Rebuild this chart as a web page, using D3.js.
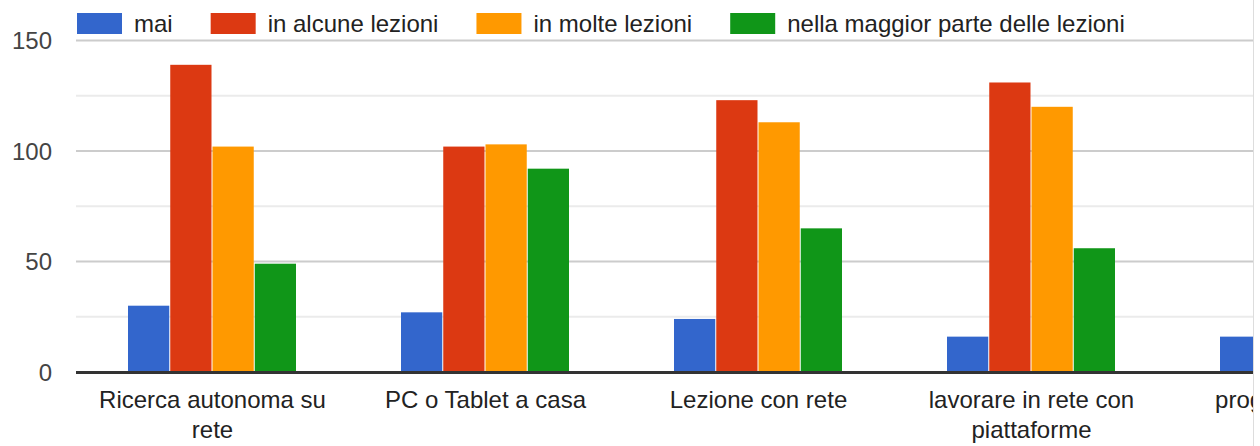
<!DOCTYPE html>
<html>
<head>
<meta charset="utf-8">
<script src="https://cdn.jsdelivr.net/npm/d3@7"></script>
<style>
  html, body { margin: 0; padding: 0; background: #fff; }
  svg { display: block; font-family: "Liberation Sans", Arial, sans-serif; }
</style>
</head>
<body>
<svg id="chart" width="1260" height="446"></svg>
<script>
// Answers per activity, one array per frequency level
const categories = [
  ["Ricerca autonoma su", "rete"],
  ["PC o Tablet a casa"],
  ["Lezione con rete"],
  ["lavorare in rete con", "piattaforme"],
  ["progetti condivisi"]
];
const seriesNames = ["mai", "in alcune lezioni", "in molte lezioni", "nella maggior parte delle lezioni"];
const seriesColors = ["#3366cc", "#dc3912", "#ff9900", "#109618"];
const mai = [30, 27, 24, 16, 16];
const alcune = [139, 102, 123, 131, null];
const molte = [102, 103, 113, 120, null];
const maggior = [49, 92, 65, 56, null];
const yTicks = [0, 50, 100, 150];
const yMinorTicks = [25, 75, 125];

const series = [mai, alcune, molte, maggior];

const svg = d3.select("#chart");
const left = 76, clipRight = 1253;
const groupStep = 273;
const fontSize = 24;

const x0 = d3.scaleBand()
  .domain(d3.range(categories.length))
  .range([left, left + groupStep * categories.length])
  .paddingInner(104 / 273)
  .paddingOuter(52 / 273);
const x1 = d3.scaleBand()
  .domain(d3.range(series.length))
  .range([0, x0.bandwidth()]);
const y = d3.scaleLinear().domain([0, 150]).range([372, 40.5]);

svg.append("defs").append("clipPath").attr("id", "plotclip")
  .append("rect").attr("x", 0).attr("y", 0).attr("width", clipRight).attr("height", 446);

const plot = svg.append("g").attr("clip-path", "url(#plotclip)");

// gridlines
plot.append("g").selectAll("line").data(yMinorTicks).join("line")
  .attr("x1", left).attr("x2", clipRight)
  .attr("y1", d => y(d)).attr("y2", d => y(d))
  .attr("stroke", "#ebebeb").attr("stroke-width", 2);
plot.append("g").selectAll("line").data(yTicks.filter(d => d > 0)).join("line")
  .attr("x1", left).attr("x2", clipRight)
  .attr("y1", d => y(d)).attr("y2", d => y(d))
  .attr("stroke", "#cccccc").attr("stroke-width", 2);

// bars
const bars = [];
series.forEach((s, si) => s.forEach((v, ci) => {
  if (v !== null) bars.push({ si, ci, v });
}));
plot.append("g").selectAll("rect").data(bars).join("rect")
  .attr("x", d => x0(d.ci) + x1(d.si))
  .attr("width", x1.bandwidth() - 1)
  .attr("y", d => y(d.v))
  .attr("height", d => y(0) - y(d.v))
  .attr("fill", d => seriesColors[d.si]);

// baseline
plot.append("line")
  .attr("x1", left).attr("x2", clipRight)
  .attr("y1", y(0) + 0.5).attr("y2", y(0) + 0.5)
  .attr("stroke", "#333").attr("stroke-width", 3);

// category labels
const catG = plot.append("g");
categories.forEach((lines, i) => {
  const t = catG.append("text")
    .attr("x", x0(i) + x0.bandwidth() / 2)
    .attr("y", 408)
    .attr("text-anchor", "middle")
    .attr("font-size", fontSize)
    .attr("fill", "#222");
  lines.forEach((ln, k) => {
    t.append("tspan").attr("x", x0(i) + x0.bandwidth() / 2)
      .attr("dy", k === 0 ? 0 : 30).text(ln);
  });
});

// y tick labels
svg.append("g").selectAll("text").data(yTicks).join("text")
  .attr("x", 52).attr("y", d => y(d) + 8.5)
  .attr("text-anchor", "end")
  .attr("font-size", fontSize)
  .attr("fill", "#444")
  .text(d => d);

// right border
svg.append("line")
  .attr("x1", clipRight + 0.5).attr("x2", clipRight + 0.5)
  .attr("y1", 0).attr("y2", 446)
  .attr("stroke", "#dddddd").attr("stroke-width", 1);

// legend
const legend = svg.append("g");
let lx = 77;
seriesNames.forEach((name, i) => {
  legend.append("rect")
    .attr("x", lx).attr("y", 13).attr("width", 45).attr("height", 21)
    .attr("fill", seriesColors[i]);
  const t = legend.append("text")
    .attr("x", lx + 57).attr("y", 31.5)
    .attr("font-size", fontSize)
    .attr("fill", "#222")
    .text(name);
  lx = lx + 57 + t.node().getComputedTextLength() + 38;
});
</script>
</body>
</html>
